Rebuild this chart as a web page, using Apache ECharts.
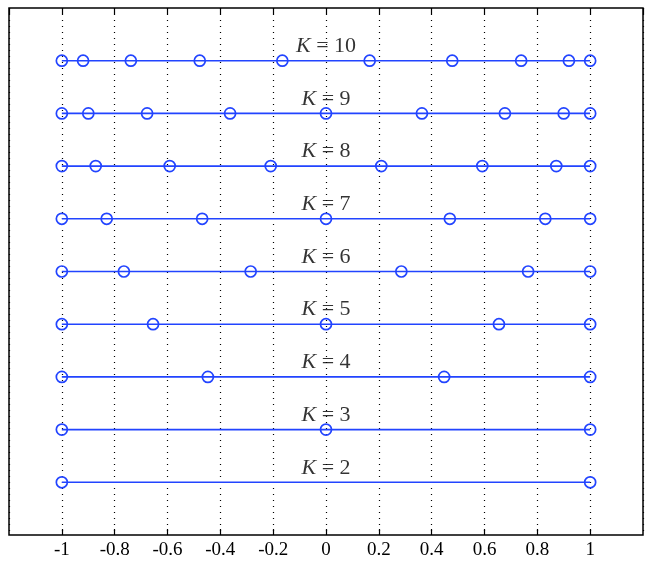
<!DOCTYPE html>
<html>
  <head>
    <meta charset="UTF-8" />
    <title>K nodes</title>
    <script type="text/javascript" src="https://cdn.jsdelivr.net/npm/echarts@6/dist/echarts.min.js"></script>
  </head>
  <body style="margin: 0">
    <div id="chart" style="height: 570px; width: 652px"></div>
    <script>
      // node positions on [-1, 1] for each K
      var kValues = [2, 3, 4, 5, 6, 7, 8, 9, 10];
      var nodesK2 = [-1, 1];
      var nodesK3 = [-1, 0, 1];
      var nodesK4 = [-1, -0.4472, 0.4472, 1];
      var nodesK5 = [-1, -0.6547, 0, 0.6547, 1];
      var nodesK6 = [-1, -0.7651, -0.2852, 0.2852, 0.7651, 1];
      var nodesK7 = [-1, -0.8302, -0.4688, 0, 0.4688, 0.8302, 1];
      var nodesK8 = [-1, -0.8717, -0.5917, -0.2093, 0.2093, 0.5917, 0.8717, 1];
      var nodesK9 = [-1, -0.8998, -0.6772, -0.3631, 0, 0.3631, 0.6772, 0.8998, 1];
      var nodesK10 = [-1, -0.9195, -0.7388, -0.4779, -0.1653, 0.1653, 0.4779, 0.7388, 0.9195, 1];
      var allNodes = [nodesK2, nodesK3, nodesK4, nodesK5, nodesK6, nodesK7, nodesK8, nodesK9, nodesK10];

      var blue = "#2244ff";
      var series = [];
      for (var i = 0; i < kValues.length; i++) {
        var k = kValues[i];
        series.push({
          type: "line",
          data: allNodes[i].map(function (x) {
            return [x, k];
          }),
          symbol: "circle",
          symbolSize: 11,
          showAllSymbol: true,
          lineStyle: { color: blue, width: 1.6 },
          itemStyle: { color: "rgba(0,0,0,0)", borderColor: blue, borderWidth: 1.7 },
          animation: false,
          z: 3,
        });
      }
      // K = n labels
      series.push({
        type: "scatter",
        symbol: "circle",
        symbolSize: 1,
        itemStyle: { color: "rgba(0,0,0,0)" },
        data: kValues.map(function (k) {
          return [0, k];
        }),
        label: {
          show: true,
          position: "top",
          distance: 3,
          formatter: function (p) {
            return "{i|K} = " + p.value[1];
          },
          fontFamily: "Liberation Serif",
          fontSize: 22,
          color: "#000",
          rich: {
            i: { fontStyle: "italic", fontFamily: "Liberation Serif", fontSize: 22, color: "#000" },
          },
        },
        animation: false,
        z: 5,
      });

      var fmt = function (v) {
        return String(+v.toFixed(1));
      };
      var option = {
        backgroundColor: "#fff",
        grid: {
          left: 9,
          right: 9,
          top: 8,
          bottom: 35,
          show: true,
          borderColor: "#000",
          borderWidth: 1.5,
        },
        xAxis: [
          {
            type: "value",
            min: -1.2,
            max: 1.2,
            interval: 0.2,
            axisLine: { show: false },
            axisTick: { show: true, inside: true, length: 6, lineStyle: { color: "#000", width: 1.2 } },
            axisLabel: {
              showMinLabel: false,
              showMaxLabel: false,
              formatter: fmt,
              fontFamily: "Liberation Serif",
              fontSize: 19,
              color: "#000",
              margin: 6,
            },
            splitLine: { show: true, lineStyle: { color: "#000", type: [1, 5], width: 1.2 } },
          },
          {
            type: "value",
            position: "top",
            min: -1.2,
            max: 1.2,
            interval: 0.2,
            axisLine: { show: false },
            axisTick: { show: true, inside: true, length: 6, lineStyle: { color: "#000", width: 1.2 } },
            axisLabel: { show: false },
            splitLine: { show: false },
          },
        ],
        yAxis: {
          type: "value",
          min: 1,
          max: 11,
          axisLine: { show: false },
          axisTick: { show: false },
          axisLabel: { show: false },
          splitLine: { show: false },
        },
        series: series,
      };
      var myChart = echarts.init(document.getElementById("chart"));
      myChart.setOption(option);
    </script>
  </body>
</html>
